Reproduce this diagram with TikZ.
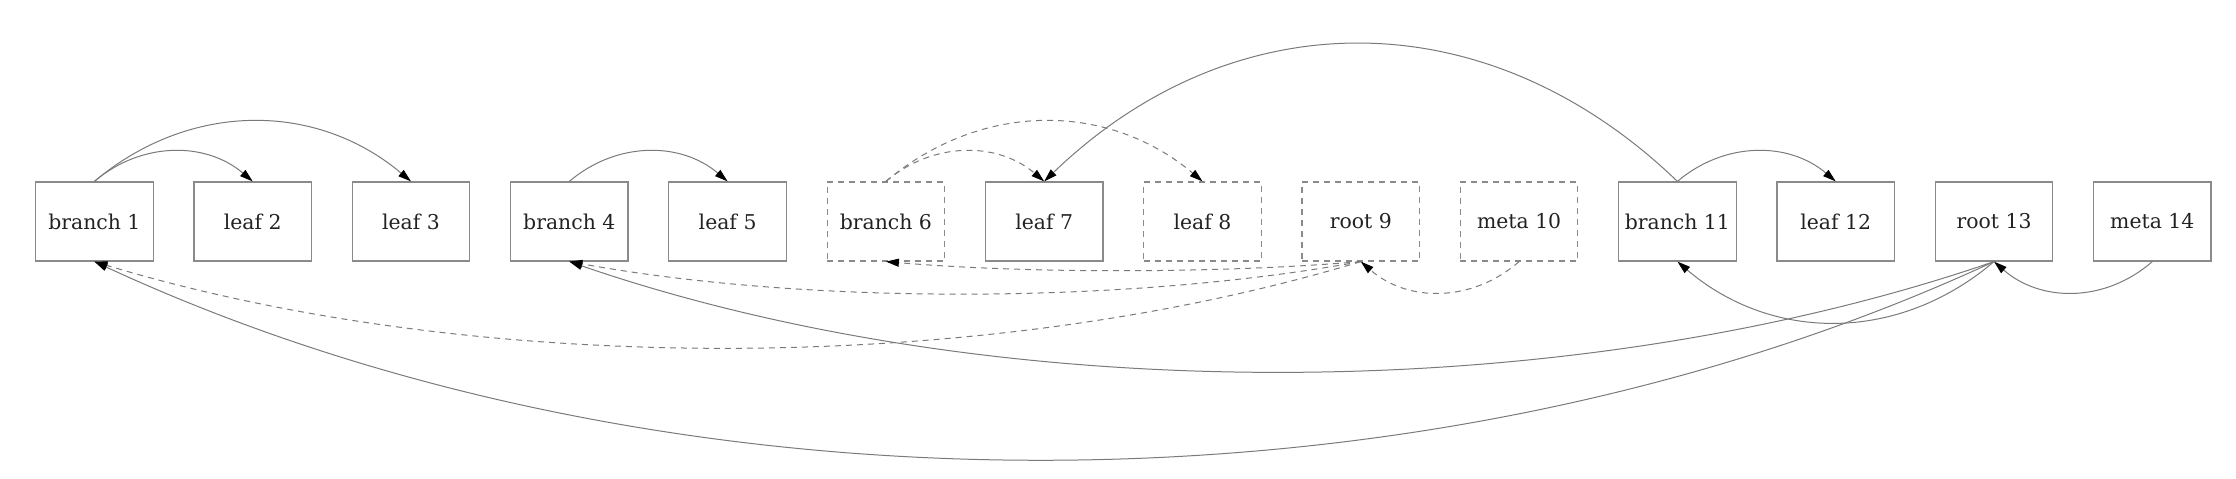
\documentclass[tikz,border=0pt]{standalone}
\usepackage{fontspec}
\setmainfont{DejaVu Serif}
\usetikzlibrary{arrows.meta}
\definecolor{boxgray}{HTML}{8A8A8A}
\definecolor{edgegray}{HTML}{7A7A7A}
\definecolor{textgray}{HTML}{222222}
\begin{document}
\begin{tikzpicture}[x=0.5pt,y=0.5pt,
  box/.style={draw=boxgray, line width=0.6pt, minimum width=58.75pt, minimum height=39.5pt, inner sep=0pt, font=\fontsize{10.2}{12}\selectfont, text=textgray},
  dbox/.style={box, dash pattern=on 3pt off 2.5pt},
  edge/.style={draw=edgegray, line width=0.5pt, -{Triangle[length=6.5pt,width=4pt,color=black]}},
  dedge/.style={edge, dash pattern=on 3pt off 2.5pt}]
\useasboundingbox (0,0) rectangle (2236,478);
% nodes
\node[box]  (b1)  at (94.4,256.5)   {branch 1};
\node[box]  (l2)  at (252.7,256.5)  {leaf 2};
\node[box]  (l3)  at (411.0,256.5)  {leaf 3};
\node[box]  (b4)  at (569.3,256.5)  {branch 4};
\node[box]  (l5)  at (727.6,256.5)  {leaf 5};
\node[dbox] (b6)  at (885.9,256.5)  {branch 6};
\node[box]  (l7)  at (1044.2,256.5) {leaf 7};
\node[dbox] (l8)  at (1202.5,256.5) {leaf 8};
\node[dbox] (r9)  at (1360.8,256.5) {root 9};
\node[dbox] (m10) at (1519.1,256.5) {meta 10};
\node[box]  (b11) at (1677.4,256.5) {branch 11};
\node[box]  (l12) at (1835.7,256.5) {leaf 12};
\node[box]  (r13) at (1994.0,256.5) {root 13};
\node[box]  (m14) at (2152.3,256.5) {meta 14};
% upper arcs
\draw[edge]  (b1.north) .. controls +(47,40) and +(-47,40) .. (l2.north);
\draw[edge]  (b1.north) .. controls +(95,80) and +(-95,80) .. (l3.north);
\draw[edge]  (b4.north) .. controls +(47,40) and +(-47,40) .. (l5.north);
\draw[dedge] (b6.north) .. controls +(47,40) and +(-47,40) .. (l7.north);
\draw[dedge] (b6.north) .. controls +(95,80) and +(-95,80) .. (l8.north);
\draw[edge]  (b11.north) .. controls +(-190,183) and +(190,183) .. (l7.north);
\draw[edge]  (b11.north) .. controls +(47,40) and +(-47,40) .. (l12.north);
% lower arcs
\draw[dedge] (r9.south) .. controls +(-142,-12) and +(142,-12) .. (b6.south);
\draw[dedge] (r9.south) .. controls +(-237,-43) and +(237,-43) .. (b4.south);
\draw[dedge] (r9.south) .. controls +(-380,-115) and +(380,-115) .. (b1.south);
\draw[dedge] (m10.south) .. controls +(-47,-41) and +(47,-41) .. (r9.south);
\draw[edge]  (r13.south) .. controls +(-427,-147) and +(427,-147) .. (b4.south);
\draw[edge]  (r13.south) .. controls +(-570,-264) and +(570,-264) .. (b1.south);
\draw[edge]  (r13.south) .. controls +(-95,-81) and +(95,-81) .. (b11.south);
\draw[edge]  (m14.south) .. controls +(-47,-41) and +(47,-41) .. (r13.south);
\end{tikzpicture}
\end{document}
